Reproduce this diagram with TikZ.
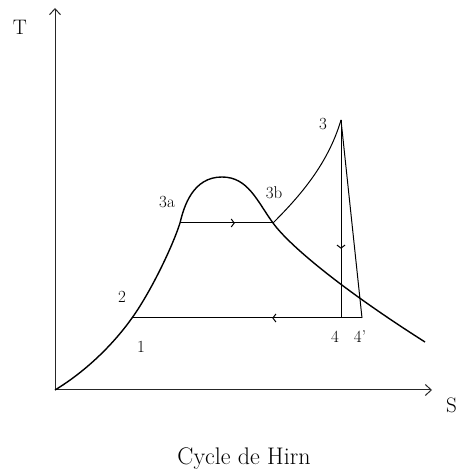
\documentclass[tikz,border=0pt]{standalone}
\usetikzlibrary{arrows.meta,decorations.markings}
\begin{document}
\begin{tikzpicture}[
        x=1pt, y=1pt,
        axis/.style={-{Straight Barb[length=6pt,width=11pt]}, line width=1pt, draw=black!85},
        dome/.style={line width=1.4pt},
        cycleline/.style={line width=1pt},
        midarrow/.style={postaction={decorate}, decoration={markings,
            mark=at position #1 with {\arrow{Straight Barb[length=3pt,width=8pt]}}}},
        lbl/.style={font=\fontsize{17}{20}\selectfont, inner sep=0pt},
        caption/.style={font=\fontsize{24}{28}\selectfont, inner sep=0pt}
      ]
      \useasboundingbox (0,0) rectangle (457,474);
      % states
      \coordinate (O)   at (55, 84);
      \coordinate (p1)  at (132, 156);
      \coordinate (p3a) at (180, 251);
      \coordinate (top) at (222, 297);
      \coordinate (p3b) at (273, 251);
      \coordinate (p3)  at (341, 354);
      \coordinate (p4)  at (341, 156);
      \coordinate (p4p) at (362, 156);
      \coordinate (Ttop) at (55, 466);
      \coordinate (Send) at (432, 84);
      % axes
      \draw[axis] (O) -- (Ttop);
      \draw[axis] (O) -- (Send);
      \node[lbl, font=\fontsize{21}{24}\selectfont] (T) at (20, 447) {T};
      \node[lbl, font=\fontsize{21}{24}\selectfont, anchor=east] (S) at (457, 69) {S};
      % saturation curve
      \draw[dome] (O) .. controls (88,104) and (115,132) .. (p1)
        .. controls (150,181) and (172,226) .. (p3a)
        .. controls (184,268) and (193,297) .. (top)
        .. controls (248,297) and (257,273) .. (p3b)
        .. controls (289,229) and (340,186) .. (425,132);
      % cycle
      \draw[cycleline, midarrow=0.59] (p3a) -- (p3b);
      \draw[cycleline] (p3b) .. controls (300,278) and (328,310) .. (p3);
      \draw[cycleline, midarrow=0.65] (p3) -- (p4);
      \draw[cycleline] (p3) -- (p4p);
      \draw[cycleline, midarrow=0.39] (p4p) -- (p1);
      % labels
      \node[lbl] (l1)  at (141, 127) {1};
      \node[lbl] (l2)  at (122, 177) {2};
      \node[lbl] (l3a) at (167, 272) {3a};
      \node[lbl] (l3b) at (274, 281) {3b};
      \node[lbl] (l3)  at (323, 350) {3};
      \node[lbl] (l4)  at (335, 137) {4};
      \node[lbl] (l4p) at (360, 137) {4'};
      \node[caption] (title) at (244, 15) {Cycle de Hirn};
    \end{tikzpicture}
\end{document}
